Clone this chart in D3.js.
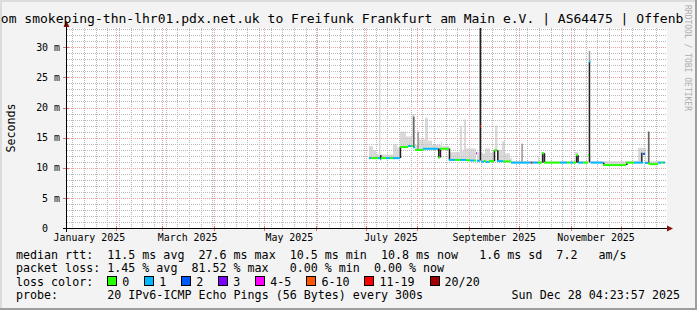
<!DOCTYPE html>
<html>
<head>
<meta charset="utf-8">
<script src="https://cdn.jsdelivr.net/npm/d3@7"></script>
<style>
  body { margin: 0; background: #f3f3f3; }
  svg { display: block; }
  text { white-space: pre; }
</style>
</head>
<body>
<svg width="697" height="310"></svg>
<script>
var yTicks = [0, 5, 10, 15, 20, 25, 30];
var labelMonths = ['2025-01', '2025-03', '2025-05', '2025-07', '2025-09', '2025-11'];

// median rtt in ms, each step holds until the next date
var medDates = ['07-03 02','07-04 07','07-08 12','07-09 17','07-10 07','07-13 07','07-15 17','07-17 12',
    '07-21 17','07-26 12','07-28 07','07-29 12','07-30 17','08-04 12','08-13 12','08-14 17','08-20 02',
    '08-23 17','08-26 17','08-30 07','09-01 17','09-04 02','09-05 07','09-05 22','09-07 17','09-08 07',
    '09-10 02','09-11 07','09-13 02','09-16 02','09-17 22','09-21 12','09-26 07','10-08 07','10-09 07',
    '10-12 12','10-14 22','10-16 02','10-25 17','10-29 22','10-31 17','11-02 12','11-04 07','11-05 12',
    '11-08 12','11-11 12','11-12 02','11-13 00','11-20 12','12-04 07','12-09 02','12-14 12','12-15 17',
    '12-17 12','12-18 17','12-23 12','12-25 07','12-26 12'];
var medValues = [11.6,11.6,11.6,11.4,11.6,11.6,11.6,11.6,
    13.45,13.6,13.6,13.4,12.95,13.15,11.7,13.15,11.3,
    11.3,11.3,11.25,11.2,11.2,12.4,11.15,16.9,11.0,
    11.1,10.95,11.1,12.9,11.1,11.05,10.85,10.85,10.85,
    10.85,12.4,10.85,10.85,10.85,10.85,10.85,12.1,10.85,
    10.85,12.1,27.6,10.85,10.45,10.85,10.85,12.3,10.8,
    10.7,10.6,10.85,10.85,10.85];
// index into lossColors
var medLoss = [1,0,1,1,0,1,0,1,
    0,1,0,1,0,1,0,0,1,
    0,1,0,1,0,4,1,6,1,
    0,1,0,0,1,0,1,6,1,
    0,0,0,1,0,1,0,0,1,
    0,0,1,1,0,0,1,2,1,
    0,0,1,0,1];
var dataEnd = '12-27 17';

// light grey smoke, top edge in ms
var smokeDates = ['07-03 02','07-05 12','07-07 07','07-09 02','07-10 00','07-17 12','07-19 22','07-21 17',
    '07-25 07','07-28 22','07-30 10','08-02 02','08-05 17','08-07 12','08-09 22','08-15 07','08-15 22',
    '08-20 02','08-26 17','08-27 22','08-29 02','08-30 07','09-05 07','09-07 02','09-08 07','09-10 17',
    '09-13 17','09-16 17','09-18 05','09-20 22','09-22 17','09-25 17','09-26 22','10-12 12','10-13 02',
    '10-14 07','10-16 17','11-03 17','11-05 12','11-11 12','11-13 07','12-11 12','12-16 07','12-17 05',
    '12-18 10'];
var smokeTops = [13.6,12.9,12.2,30.0,12.2,13.9,13.4,16.0,
    15.2,18.9,13.8,14.7,18.3,14.5,13.8,14.4,13.6,
    12.6,17.0,12.8,18.0,13.2,12.6,33.5,12.4,13.2,
    12.5,17.0,13.0,14.4,12.4,11.6,11.1,11.9,11.1,
    12.6,11.1,12.6,11.1,12.0,11.1,13.3,11.1,16.0,
    11.1];

// dense smoke columns (ms range and grey level)
var colDates = ['07-09 17','07-21 12','07-29 12','08-01 02','08-13 12','08-14 12','08-19 22','09-07 12',
    '09-15 22','09-17 22','10-02 12','10-14 22','10-15 22','11-04 07','11-05 02','11-11 22','11-11 22',
    '11-20 12','12-04 07','12-13 07','12-17 12'];
var colLow = [11.4,11.6,13.4,13.0,11.7,11.7,11.3,11.2,11.1,11.1,11.0,10.85,10.85,10.85,10.85,10.9,27.6,10.45,10.45,10.85,10.7];
var colHigh = [12.1,13.4,18.5,16.0,13.2,13.2,13.2,33.5,12.9,12.9,14.0,12.4,12.4,12.1,12.1,27.6,29.4,10.85,10.85,12.5,16.0];
var colShade = ['#222','#222','#666','#999','#222','#222','#222','#222','#222','#222','#999','#222','#222',
    '#222','#222','#222','#999','#222','#222','#333','#666'];

var lossLabels = ['0', '1', '2', '3', '4-5', '6-10', '11-19', '20/20'];
var lossColors = ['#26ff00', '#00b8ff', '#0059ff', '#7e00ff', '#ff00ff', '#ff5500', '#ff0000', '#a10000'];

var title = 'om smokeping-thn-lhr01.pdx.net.uk to Freifunk Frankfurt am Main e.V. | AS64475 | Offenb';
var statLines = [
    'median rtt:  11.5 ms avg  27.6 ms max  10.5 ms min  10.8 ms now   1.6 ms sd  7.2   am/s',
    'packet loss: 1.45 % avg  81.52 % max   0.00 % min  0.00 % now'
];
var probeText = '20 IPv6-ICMP Echo Pings (56 Bytes) every 300s';
var stampText = 'Sun Dec 28 04:23:57 2025';

var MONO = "'DejaVu Sans Mono', monospace";
var parseUtc = d3.utcParse('%Y-%m-%d %H');
function parseDay(s) { return parseUtc('2025-' + s); }

var svg = d3.select('svg');

// **** scales ****
var tStart = new Date(Date.UTC(2025, 0, 2, 21, 36));
var tEnd = new Date(Date.UTC(2025, 11, 28, 21, 36));
var xScale = d3.scaleUtc().domain([tStart, tEnd]).range([67, 667]);
var yScale = d3.scaleLinear().domain([0, 33.2]).range([228, 28]).clamp(true);

function px(v) { return Math.round(v) + 0.5; }

// background and shaded frame
svg.append('rect').attr('width', 697).attr('height', 310).attr('fill', '#f3f3f3');
svg.append('rect').attr('width', 697).attr('height', 2).attr('fill', '#dcdcdc');
svg.append('rect').attr('width', 2).attr('height', 310).attr('fill', '#dcdcdc');
svg.append('rect').attr('x', 695).attr('width', 2).attr('height', 310).attr('fill', '#9e9e9e');
svg.append('rect').attr('y', 308).attr('width', 697).attr('height', 2).attr('fill', '#9e9e9e');

// canvas
svg.append('rect').attr('x', 67).attr('y', 28).attr('width', 600).attr('height', 200).attr('fill', '#ffffff');

// **** grid ****
var grid = svg.append('g').attr('shape-rendering', 'crispEdges');
var minorY = d3.range(1, 34).filter(function(v) { return v % 5 !== 0 && v <= 33.2; });
var majorY = yTicks.filter(function(v) { return v > 0; });
var weeks = d3.utcMonday.range(tStart, tEnd);
var months = d3.utcMonth.range(tStart, tEnd);

grid.selectAll('.hminor').data(minorY).enter().append('line')
    .attr('x1', 67).attr('x2', 667)
    .attr('y1', function(d) { return px(yScale(d)); })
    .attr('y2', function(d) { return px(yScale(d)); })
    .attr('stroke', '#b8b8b8').attr('stroke-dasharray', '1,1');
grid.selectAll('.vminor').data(weeks).enter().append('line')
    .attr('y1', 28).attr('y2', 228)
    .attr('x1', function(d) { return px(xScale(d)); })
    .attr('x2', function(d) { return px(xScale(d)); })
    .attr('stroke', '#b8b8b8').attr('stroke-dasharray', '1,1');
grid.selectAll('.hmajor').data(majorY).enter().append('line')
    .attr('x1', 67).attr('x2', 667)
    .attr('y1', function(d) { return px(yScale(d)); })
    .attr('y2', function(d) { return px(yScale(d)); })
    .attr('stroke', '#f2a0a0').attr('stroke-dasharray', '1,1');
grid.selectAll('.vmajor').data(months).enter().append('line')
    .attr('y1', 28).attr('y2', 228)
    .attr('x1', function(d) { return px(xScale(d)); })
    .attr('x2', function(d) { return px(xScale(d)); })
    .attr('stroke', '#f2a0a0').attr('stroke-dasharray', '1,1');

// small ticks on the axes
grid.selectAll('.tx').data(months).enter().append('line')
    .attr('x1', function(d) { return px(xScale(d)); })
    .attr('x2', function(d) { return px(xScale(d)); })
    .attr('y1', 226).attr('y2', 231).attr('stroke', '#e07070');
grid.selectAll('.ty').data(majorY).enter().append('line')
    .attr('y1', function(d) { return px(yScale(d)); })
    .attr('y2', function(d) { return px(yScale(d)); })
    .attr('x1', 63).attr('x2', 69).attr('stroke', '#e07070');

// **** build step records ****
var med = medDates.map(function(d, i) {
    return { t0: parseDay(d), t1: parseDay(i < medDates.length - 1 ? medDates[i + 1] : dataEnd),
             v: medValues[i], loss: medLoss[i] };
});
var smoke = smokeDates.map(function(d, i) {
    return { t0: parseDay(d), t1: parseDay(i < smokeDates.length - 1 ? smokeDates[i + 1] : dataEnd),
             top: smokeTops[i] };
});

// light smoke, drawn above the median of every overlapping step
var smokeG = svg.append('g').attr('fill', '#c4c4c4').attr('fill-opacity', 0.62);
smoke.forEach(function(s) {
    med.forEach(function(m) {
        var a = Math.max(s.t0, m.t0), b = Math.min(s.t1, m.t1);
        if (a < b && s.top > m.v) {
            smokeG.append('rect')
                .attr('x', xScale(a))
                .attr('width', xScale(b) - xScale(a))
                .attr('y', yScale(s.top))
                .attr('height', yScale(m.v) - yScale(s.top));
        }
    });
});

// dense columns
svg.append('g').selectAll('rect')
    .data(colDates)
    .enter()
    .append('rect')
    .attr('x', function(d) { return xScale(parseDay(d)); })
    .attr('width', function(d) { var t = parseDay(d); return xScale(d3.utcHour.offset(t, 22)) - xScale(t); })
    .attr('y', function(d, i) { return yScale(colHigh[i]); })
    .attr('height', function(d, i) { return yScale(colLow[i]) - yScale(colHigh[i]); })
    .attr('fill', function(d, i) { return colShade[i]; });

// median line, coloured by loss
svg.append('g').selectAll('line')
    .data(med)
    .enter()
    .append('line')
    .attr('x1', function(d) { return xScale(d.t0); })
    .attr('x2', function(d) { return xScale(d.t1); })
    .attr('y1', function(d) { return yScale(d.v); })
    .attr('y2', function(d) { return yScale(d.v); })
    .attr('stroke', function(d) { return lossColors[d.loss]; })
    .attr('stroke-width', 2);

// **** axes ****
var axisG = svg.append('g').attr('shape-rendering', 'crispEdges');
axisG.append('line').attr('x1', 63).attr('x2', 669).attr('y1', 228.5).attr('y2', 228.5).attr('stroke', '#000');
axisG.append('line').attr('x1', 66.5).attr('x2', 66.5).attr('y1', 232).attr('y2', 25).attr('stroke', '#000');
svg.append('path').attr('d', 'M667,225.5L673,228.5L667,231.5Z').attr('fill', '#8b1010');
svg.append('path').attr('d', 'M63.5,27L66.5,21L69.5,27Z').attr('fill', '#8b1010');

var yAxis = d3.axisLeft(yScale).tickValues(yTicks).tickSize(0).tickPadding(7)
    .tickFormat(function(d) { return d === 0 ? '0\u00a0\u00a0' : d + ' m'; });
svg.append('g').attr('transform', 'translate(67,0)').call(yAxis)
    .attr('font-family', MONO).attr('font-size', 9.92)
    .call(function(g) { g.select('.domain').remove(); });

var xAxis = d3.axisBottom(xScale)
    .tickValues(labelMonths.map(function(m) { return d3.utcDay.offset(d3.utcParse('%Y-%m')(m), 15); }))
    .tickSize(0).tickPadding(6)
    .tickFormat(d3.utcFormat('%B %Y'));
svg.append('g').attr('transform', 'translate(0,228)').call(xAxis)
    .attr('font-family', MONO).attr('font-size', 9.92)
    .call(function(g) { g.select('.domain').remove(); });

svg.append('text')
    .attr('transform', 'translate(15,128) rotate(-90)')
    .attr('text-anchor', 'middle')
    .attr('font-family', MONO).attr('font-size', 11.66)
    .text('Seconds');

// title and watermark
svg.append('text')
    .attr('x', 0.8).attr('y', 23)
    .attr('font-family', MONO).attr('font-size', 13.04)
    .text(title);
svg.append('text')
    .attr('transform', 'translate(685,5) rotate(90)')
    .attr('font-family', MONO).attr('font-size', 8)
    .attr('fill', '#adadad')
    .text('RRDTOOL / TOBI OETIKER');

// **** legend ****
var legend = svg.append('g').attr('font-family', MONO).attr('font-size', 11.66);
var CW = 7.02;
legend.selectAll('.stat').data(statLines).enter().append('text')
    .attr('x', 16).attr('y', function(d, i) { return 258.5 + i * 13.5; })
    .text(function(d) { return d; });

legend.append('text').attr('x', 16).attr('y', 285.5).text('loss color:');
var bx = 16 + 13 * CW;
lossLabels.forEach(function(lab, i) {
    legend.append('rect')
        .attr('x', Math.round(bx) + 0.5).attr('y', 276.5)
        .attr('width', 9).attr('height', 9)
        .attr('fill', lossColors[i]).attr('stroke', '#000');
    legend.append('text').attr('x', bx + 15).attr('y', 285.5).text(lab);
    bx = bx + 15 + lab.length * CW + 15;
});

legend.append('text').attr('x', 16).attr('y', 299).text('probe:');
legend.append('text').attr('x', 16 + 13 * CW).attr('y', 299).text(probeText);
legend.append('text').attr('x', 680).attr('y', 299).attr('text-anchor', 'end').text(stampText);
</script>
</body>
</html>
